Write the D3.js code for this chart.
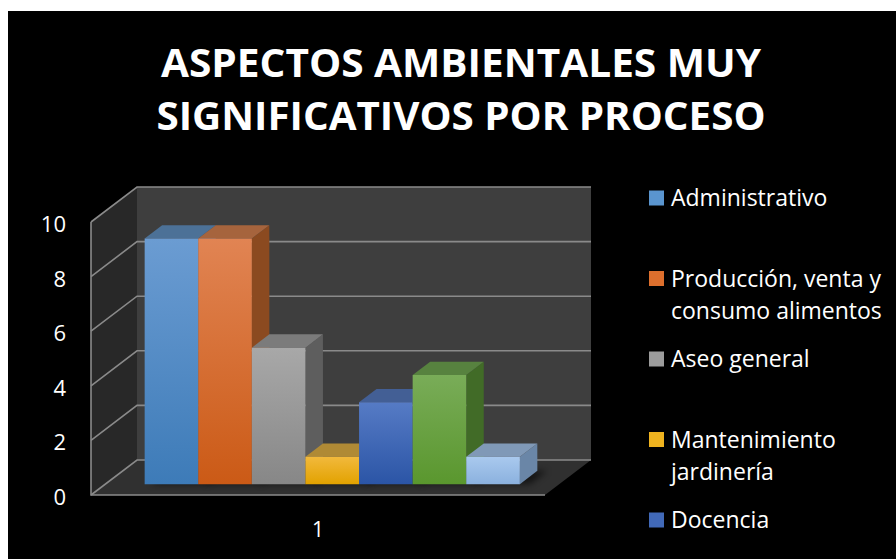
<!DOCTYPE html>
<html lang="es">
<head>
<meta charset="UTF-8">
<title>Aspectos ambientales muy significativos por proceso</title>
<script src="https://d3js.org/d3.v7.min.js"></script>
<style>
    body {
        margin: 0;
        background: #fff;
        font-family: "Open Sans", sans-serif;
    }
    svg { display: block; }
</style>
</head>
<body>
<svg id="chart" width="896" height="559"></svg>
<script>
// data
const titleLines = ["ASPECTOS AMBIENTALES MUY", "SIGNIFICATIVOS POR PROCESO"];
const categories = ["1"];
const seriesNames = ["Administrativo", "Producción, venta y consumo alimentos", "Aseo general",
                     "Mantenimiento jardinería", "Docencia", null, null];   // last two are cut off in the legend
const seriesValues = [9, 9, 5, 1, 3, 4, 1];
const yTicks = [0, 2, 4, 6, 8, 10];

// shading per series: front top, front bottom, top face, side face, legend
const palette = [
    ["#6b9cd2", "#3d7bb8", "#4c7197", "#3a6089", "#5a95cf"],
    ["#e18453", "#cb5a16", "#a6643d", "#8b4a20", "#dd6f2d"],
    ["#a8a8a8", "#878787", "#7b7b7b", "#5e5e5e", "#9c9c9c"],
    ["#f2b93c", "#e2a200", "#b08a35", "#8a6a1c", "#efb31f"],
    ["#567bc5", "#2b55a6", "#435f95", "#2f4878", "#4169b8"],
    ["#79ac58", "#5a972e", "#57823f", "#416b27", "#6aa344"],
    ["#a9c9ee", "#8bb1de", "#8099b7", "#6a86a7", "#9dc0e8"]
];

const svg = d3.select("#chart");

// black chart area (small white margin top/left like the original)
svg.append("rect")
    .attr("x", 8).attr("y", 11)
    .attr("width", 888).attr("height", 548)
    .attr("fill", "#000");

const defs = svg.append("defs");
defs.append("filter").attr("id", "blur")
    .attr("x", "-20%").attr("y", "-50%").attr("width", "140%").attr("height", "200%")
    .append("feGaussianBlur").attr("stdDeviation", 3);

// scales (front plane of the box)
const y = d3.scaleLinear().domain([0, 10]).range([495, 222]);
const x0 = d3.scaleBand().domain(categories).range([91, 545]).paddingOuter(0.105);
const x1 = d3.scaleBand().domain(d3.range(seriesValues.length)).range([0, x0.bandwidth()]);

// depth of the box
const depth = { dx: 46, dy: -35 };
const P = (x, yy, d) => [x + depth.dx * d, yy + depth.dy * d];
const poly = pts => "M" + pts.map(p => p.join(",")).join("L") + "Z";

const xL = x0.range()[0], xR = x0.range()[1];
const y0 = y(0), y10 = y(10);

// walls
svg.append("path")
    .attr("d", poly([P(xL, y0, 0), P(xL, y0, 1), P(xL, y10, 1), P(xL, y10, 0)]))
    .attr("fill", "#282828");
svg.append("path")
    .attr("d", poly([P(xL, y0, 1), P(xR, y0, 1), P(xR, y10, 1), P(xL, y10, 1)]))
    .attr("fill", "#3e3e3e");
svg.append("path")
    .attr("d", poly([P(xL, y0, 0), P(xR, y0, 0), P(xR, y0, 1), P(xL, y0, 1)]))
    .attr("fill", "#303030");

// gridlines
const gridColor = "#8a8a8a";
yTicks.forEach(v => {
    const a = P(xL, y(v), 0), b = P(xL, y(v), 1), c = P(xR, y(v), 1);
    svg.append("path")
        .attr("d", `M${a}L${b}L${c}`)
        .attr("fill", "none")
        .attr("stroke", gridColor)
        .attr("stroke-width", 1.6);
});
// box edges
svg.append("path")
    .attr("d", `M${P(xL, y10, 0)}L${P(xL, y0, 0)}L${P(xR, y0, 0)}`)
    .attr("fill", "none")
    .attr("stroke", gridColor)
    .attr("stroke-width", 1.6);

// y tick labels
svg.append("g").selectAll("text")
    .data(yTicks)
    .join("text")
    .attr("x", 66)
    .attr("y", d => y(d) + 10)
    .attr("text-anchor", "end")
    .attr("fill", "#fff")
    .attr("font-size", 22)
    .text(d => d);

// category label
svg.append("text")
    .attr("x", x0(categories[0]) + x0.bandwidth() / 2)
    .attr("y", 537)
    .attr("text-anchor", "middle")
    .attr("fill", "#fff")
    .attr("font-size", 21)
    .text(categories[0]);

// bars
const d0 = 0.31, d1 = 0.69;
const bars = svg.append("g");

// soft shadow on the floor
seriesValues.forEach((v, i) => {
    const xl = x0(categories[0]) + x1(i), xr = xl + x1.bandwidth();
    bars.append("path")
        .attr("d", poly([P(xl + 6, y0, d0), P(xr + 10, y0, d0), P(xr + 10, y0, d1), P(xl + 6, y0, d1)]))
        .attr("fill", "#000")
        .attr("opacity", 0.55)
        .attr("filter", "url(#blur)");
});

seriesValues.forEach((v, i) => {
    const c = palette[i];
    const gf = defs.append("linearGradient").attr("id", "gf" + i)
        .attr("x1", 0).attr("y1", 0).attr("x2", 0).attr("y2", 1);
    gf.append("stop").attr("offset", "0%").attr("stop-color", c[0]);
    gf.append("stop").attr("offset", "100%").attr("stop-color", c[1]);

    const xl = x0(categories[0]) + x1(i), xr = xl + x1.bandwidth();
    const yt = y(v);
    const g = bars.append("g");
    g.append("path")
        .attr("d", poly([P(xr, yt, d0), P(xr, yt, d1), P(xr, y0, d1), P(xr, y0, d0)]))
        .attr("fill", c[3]);
    g.append("path")
        .attr("d", poly([P(xl, yt, d0), P(xr, yt, d0), P(xr, yt, d1), P(xl, yt, d1)]))
        .attr("fill", c[2]);
    g.append("path")
        .attr("d", poly([P(xl, yt, d0), P(xr, yt, d0), P(xr, y0, d0), P(xl, y0, d0)]))
        .attr("fill", `url(#gf${i})`);
});

// title
svg.append("g").selectAll("text")
    .data(titleLines)
    .join("text")
    .attr("x", 461)
    .attr("y", (d, i) => 77 + i * 53)
    .attr("text-anchor", "middle")
    .attr("fill", "#fff")
    .attr("font-size", 40)
    .attr("font-weight", "bold")
    .attr("textLength", (d, i) => i === 0 ? 600 : 609)
    .attr("lengthAdjust", "spacingAndGlyphs")
    .text(d => d);

// legend
const legend = svg.append("g");
const maxW = 222;
seriesNames.forEach((name, i) => {
    if (!name) return;
    const cy = 198 + 80.5 * i;
    legend.append("rect")
        .attr("x", 649).attr("y", cy - 7.5)
        .attr("width", 15).attr("height", 15)
        .attr("fill", palette[i][4]);
    const t = legend.append("text")
        .attr("x", 671).attr("y", cy + 8)
        .attr("fill", "#fff")
        .attr("font-size", 23);
    // simple word wrap
    const words = name.split(" ");
    let line = [], lineNo = 0;
    let ts = t.append("tspan").attr("x", 671).attr("dy", 0);
    words.forEach(w => {
        line.push(w);
        ts.text(line.join(" "));
        if (ts.node().getComputedTextLength() > maxW && line.length > 1) {
            line.pop();
            ts.text(line.join(" "));
            line = [w];
            lineNo++;
            ts = t.append("tspan").attr("x", 671).attr("dy", 32).text(w);
        }
    });
});
</script>
</body>
</html>
